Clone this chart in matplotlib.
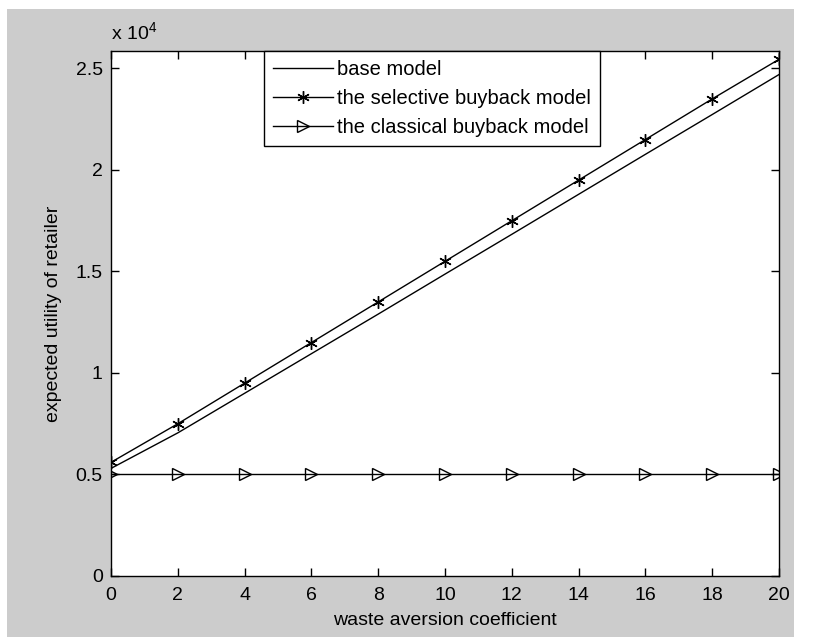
import matplotlib
matplotlib.use("Agg")
import matplotlib.pyplot as plt
from matplotlib.patches import Rectangle

plt.rcParams['font.family'] = ['Liberation Sans', 'DejaVu Sans']
plt.rcParams['mathtext.fontset'] = 'custom'
plt.rcParams['mathtext.rm'] = 'Liberation Sans'

# data (expected utility of retailer, units of 1e4)
x = [0, 2, 4, 6, 8, 10, 12, 14, 16, 18, 20]
base_model = [0.53, 0.705, 0.90, 1.095, 1.29, 1.487, 1.683, 1.88, 2.077, 2.273, 2.47]
selective = [0.56, 0.75, 0.95, 1.15, 1.35, 1.55, 1.75, 1.95, 2.15, 2.35, 2.545]
classical = [0.5, 0.5, 0.5, 0.5, 0.5, 0.5, 0.5, 0.5, 0.5, 0.5, 0.5]
xticks = [0, 2, 4, 6, 8, 10, 12, 14, 16, 18, 20]
yticks = [0, 0.5, 1, 1.5, 2, 2.5]
ytick_labels = ['0', '0.5', '1', '1.5', '2', '2.5']

W, H = 834, 637
fig = plt.figure(figsize=(W / 100, H / 100), dpi=100, facecolor='white')
fig.patches.append(Rectangle((7 / W, 0), (794 - 7) / W, (H - 9) / H,
                             transform=fig.transFigure, facecolor='#cccccc',
                             edgecolor='none', zorder=-10))

ax = fig.add_axes([111 / W, 61 / H, 668 / W, 525 / H])
ax.set_facecolor('white')

ax.plot(x, base_model, color='black', lw=1.0, label='base model')
ax.plot(x, selective, color='black', lw=1.0, marker=(6, 2, 0), markersize=9,
        markeredgewidth=1.0, label='the selective buyback model')
ax.plot(x, classical, color='black', lw=1.0, marker='>', markersize=9,
        markerfacecolor='none', markeredgewidth=1.0,
        label='the classical buyback model')

ax.set_xlim(0, 20)
ax.set_ylim(0, 2.586)
ax.set_xticks(xticks)
ax.set_yticks(yticks)
ax.set_yticklabels(ytick_labels)
ax.tick_params(direction='in', length=6, width=1, top=True, right=True,
               labelsize=14, colors='black')
ax.tick_params(axis='x', pad=8)
ax.tick_params(axis='y', pad=6)
for s in ax.spines.values():
    s.set_linewidth(1.0)
    s.set_color('black')

ax.set_xlabel('waste aversion coefficient', fontsize=14, labelpad=6)
ax.set_ylabel('expected utility of retailer', fontsize=14, labelpad=10)

ax.text(0.0, 1.014, r'x 10$^{\mathregular{4}}$', transform=ax.transAxes,
        fontsize=14, ha='left', va='bottom')

leg = ax.legend(loc='upper left', bbox_to_anchor=(0.229, 1.0), borderaxespad=0,
                fancybox=False, framealpha=1, edgecolor='black', fontsize=14.5,
                handlelength=3.0, handletextpad=0.2, labelspacing=0.5,
                borderpad=0.45)
leg.get_frame().set_linewidth(1.0)

fig.savefig('out.png', dpi=100, facecolor=fig.get_facecolor())
